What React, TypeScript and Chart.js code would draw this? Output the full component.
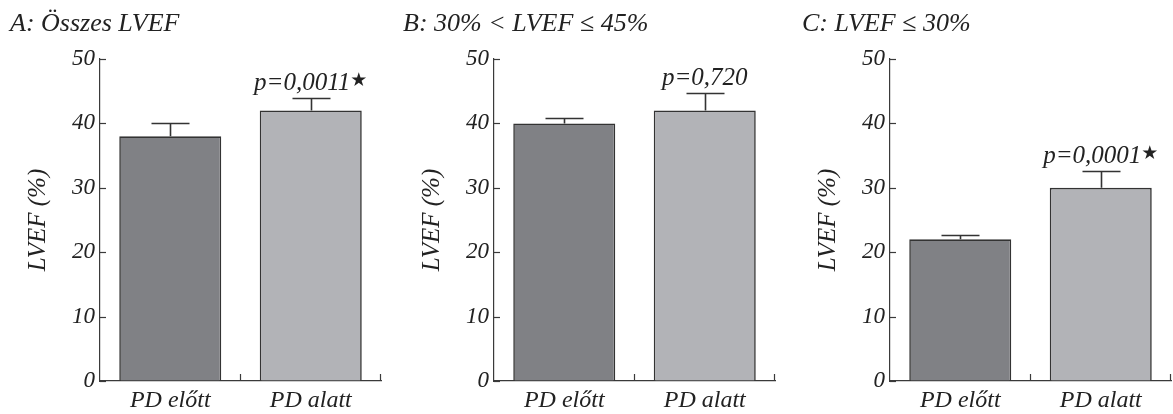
import React, { useEffect, useRef } from "react";
import { Chart, registerables } from "chart.js";

Chart.register(...registerables);

// ---- data ----
const categories = ["PD előtt", "PD alatt"];
const panelTitles = ["A: Összes LVEF", "B: 30% < LVEF ≤ 45%", "C: LVEF ≤ 30%"];
const meansA = [38, 42];
const errorsA = [2, 2];
const meansB = [40, 42];
const errorsB = [0.9, 2.7];
const meansC = [22, 30];
const errorsC = [0.6, 2.6];
const pLabels = ["p=0,0011", "p=0,720", "p=0,0001"];
const pStars = [true, false, true];
const yAxisTitle = "LVEF (%)";
const yMin = 0;
const yMax = 50;
const yStep = 10;

// ---- style ----
const FONT = '"Liberation Serif", "Times New Roman", serif';
const TEXT = "#222222";
const AXIS = "#3a3a3a";
const BAR_COLORS = ["#808185", "#b2b3b7"];
const BAR_BORDER = "#333333";

const decorPlugin = {
  id: "decor",
  afterDatasetsDraw(chart: any, _args: any, opts: any) {
    const ctx = chart.ctx;
    const ys = chart.scales.y;
    const meta = chart.getDatasetMeta(0);
    const means: number[] = opts.means;
    const errs: number[] = opts.errors;
    ctx.save();
    ctx.strokeStyle = BAR_BORDER;
    ctx.lineWidth = 1.6;
    meta.data.forEach((el: any, i: number) => {
      const x = Math.round(el.x) + 0.5;
      const yBar = ys.getPixelForValue(means[i]);
      const yTop = Math.round(ys.getPixelForValue(means[i] + errs[i])) + 0.5;
      ctx.beginPath();
      ctx.moveTo(x, yBar);
      ctx.lineTo(x, yTop);
      ctx.moveTo(x - 19, yTop);
      ctx.lineTo(x + 19, yTop);
      ctx.stroke();
    });
    ctx.restore();
  },
  afterDraw(chart: any, _args: any, opts: any) {
    const ctx = chart.ctx;
    const xs = chart.scales.x;
    const ys = chart.scales.y;
    const area = chart.chartArea;
    ctx.save();
    // panel title
    ctx.font = `italic 26px ${FONT}`;
    ctx.fillStyle = TEXT;
    ctx.textAlign = "left";
    ctx.textBaseline = "alphabetic";
    ctx.fillText(opts.title, opts.titleX, 31);

    // inward y ticks
    ctx.strokeStyle = AXIS;
    ctx.lineWidth = 1.2;
    ys.ticks.forEach((t: any) => {
      const y = Math.round(ys.getPixelForValue(t.value)) + 0.5;
      ctx.beginPath();
      ctx.moveTo(area.left, y);
      ctx.lineTo(area.left + 6, y);
      ctx.stroke();
    });
    // x ticks at category boundaries (upward)
    const p0 = xs.getPixelForValue(0);
    const p1 = xs.getPixelForValue(1);
    const half = (p1 - p0) / 2;
    [p0 + half, p1 + half].forEach((px) => {
      const x = Math.min(Math.round(px), Math.round(area.right)) - 0.5;
      ctx.beginPath();
      ctx.moveTo(x, area.bottom);
      ctx.lineTo(x, area.bottom - 7);
      ctx.stroke();
    });

    // p label above second bar
    const meta = chart.getDatasetMeta(0);
    const el = meta.data[1];
    const means: number[] = opts.means;
    const errs: number[] = opts.errors;
    const yTop = ys.getPixelForValue(means[1] + errs[1]);
    const base = yTop - 8;
    const mainFont = `italic 25px ${FONT}`;
    const starFont = `19px "DejaVu Sans", sans-serif`;
    ctx.font = mainFont;
    const w1 = ctx.measureText(opts.pLabel).width;
    let w2 = 0;
    if (opts.star) {
      ctx.font = starFont;
      w2 = ctx.measureText("★").width;
    }
    const start = el.x - (w1 + w2) / 2;
    ctx.font = mainFont;
    ctx.fillStyle = TEXT;
    ctx.fillText(opts.pLabel, start, base);
    if (opts.star) {
      ctx.font = starFont;
      ctx.fillText("★", start + w1, base - 4);
    }
    ctx.restore();
  },
};

function Panel(props: {
  idx: number;
  means: number[];
  errors: number[];
  left: number;
  titleX: number;
}) {
  const ref = useRef<HTMLCanvasElement | null>(null);
  useEffect(() => {
    if (!ref.current) return;
    const chart = new Chart(ref.current, {
      type: "bar",
      data: {
        labels: categories,
        datasets: [
          {
            data: props.means,
            backgroundColor: BAR_COLORS,
            borderColor: BAR_BORDER,
            borderWidth: 1.6,
            barPercentage: 0.726,
            categoryPercentage: 1,
          },
        ],
      },
      options: {
        responsive: false,
        animation: false,
        layout: { padding: { top: 59, right: 2, left: 0, bottom: 0 } },
        plugins: {
          legend: { display: false },
          tooltip: { enabled: false },
          title: { display: false },
          decor: {
            title: panelTitles[props.idx],
            titleX: props.titleX,
            means: props.means,
            errors: props.errors,
            pLabel: pLabels[props.idx],
            star: pStars[props.idx],
          },
        } as any,
        scales: {
          x: {
            type: "category",
            offset: true,
            grid: { display: true, drawOnChartArea: false, drawTicks: false },
            border: { display: true, color: AXIS, width: 1.2 },
            ticks: {
              padding: 5,
              color: TEXT,
              font: { family: FONT, size: 24, style: "italic" },
              maxRotation: 0,
            },
            afterFit: (s: any) => {
              s.height = 33;
            },
          },
          y: {
            min: yMin,
            max: yMax,
            grid: { display: true, drawOnChartArea: false, drawTicks: false },
            border: { display: true, color: AXIS, width: 1.2 },
            ticks: {
              stepSize: yStep,
              padding: 5,
              color: TEXT,
              font: { family: FONT, size: 23, style: "italic" },
            },
            title: {
              display: true,
              text: yAxisTitle,
              color: TEXT,
              font: { family: FONT, size: 25, style: "italic" },
              padding: { top: 23, bottom: 0 },
            },
            afterFit: (s: any) => {
              s.width = 100;
            },
          },
        },
      },
      plugins: [decorPlugin],
    } as any);
    return () => chart.destroy();
  }, []);
  return (
    <canvas
      ref={ref}
      width={383}
      height={414}
      style={{ position: "absolute", left: props.left, top: 0, width: 383, height: 414 }}
    />
  );
}

export default function App() {
  return (
    <div
      style={{
        position: "absolute",
        left: 0,
        top: 0,
        width: 1173,
        height: 414,
        background: "#ffffff",
        overflow: "hidden",
      }}
    >
      <Panel idx={0} means={meansA} errors={errorsA} left={0} titleX={10} />
      <Panel idx={1} means={meansB} errors={errorsB} left={394} titleX={9} />
      <Panel idx={2} means={meansC} errors={errorsC} left={790} titleX={12} />
    </div>
  );
}
